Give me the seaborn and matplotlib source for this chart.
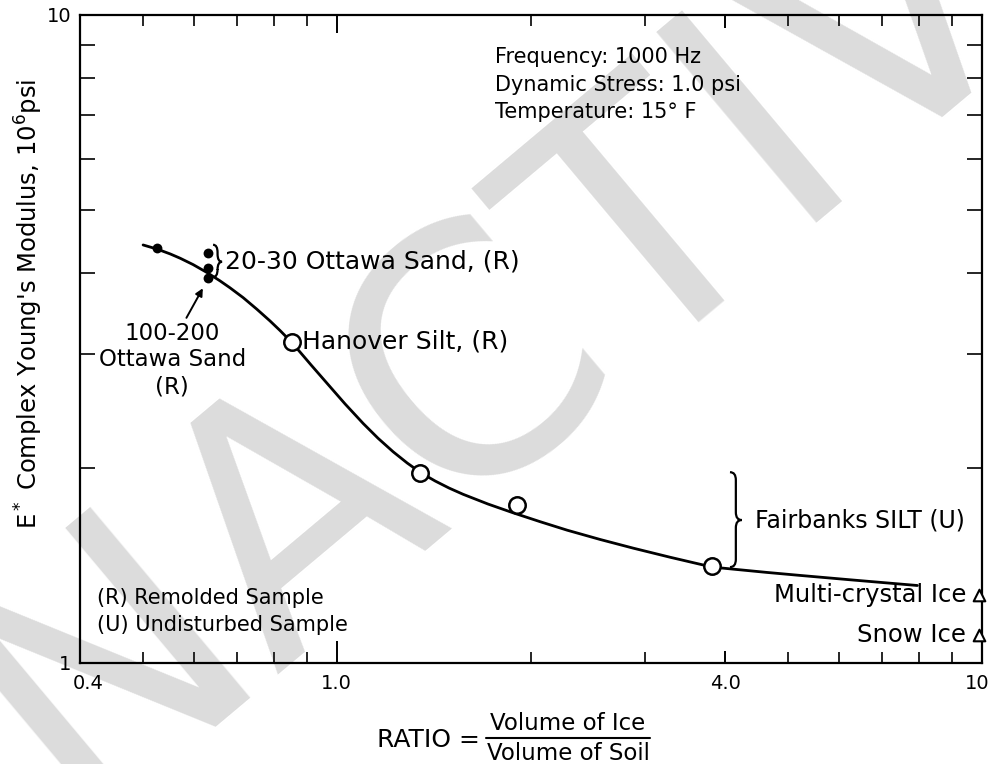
import numpy as np
import matplotlib
matplotlib.use("Agg")
import matplotlib.pyplot as plt
import matplotlib.transforms as mtransforms
from matplotlib.path import Path
from matplotlib.patches import PathPatch
from matplotlib.lines import Line2D
import seaborn as sns
import pandas as pd

# fitted curve
curve_ratio = [0.501, 0.527, 0.552, 0.572, 0.599, 0.629, 0.659, 0.683, 0.716, 0.752,
               0.788, 0.817, 0.853, 0.912, 0.976, 1.030, 1.099, 1.159, 1.223, 1.286,
               1.351, 1.421, 1.493, 1.570, 1.716, 1.877, 2.067, 2.276, 2.560, 2.880,
               3.287, 3.819, 4.630, 5.229, 6.249, 7.941]
curve_modulus = [4.417, 4.352, 4.278, 4.213, 4.119, 4.006, 3.889, 3.794, 3.663, 3.515,
                 3.372, 3.258, 3.119, 2.885, 2.670, 2.511, 2.342, 2.222, 2.118, 2.035,
                 1.965, 1.909, 1.862, 1.821, 1.759, 1.705, 1.652, 1.603, 1.551, 1.504,
                 1.456, 1.406, 1.380, 1.365, 1.344, 1.317]

# sand samples (filled dots)
sand_ratio = [0.526, 0.632, 0.632, 0.632]
sand_modulus = [4.37, 4.29, 4.07, 3.93]

# silt samples (open circles)
silt_ratio = [0.852, 1.347, 1.904, 3.818]
silt_modulus = [3.13, 1.964, 1.753, 1.411]

# ice samples (triangles, on the right edge)
ice_ratio = [9.9, 9.9]
ice_modulus = [1.275, 1.105]
ice_labels = ["Multi-crystal Ice", "Snow Ice"]

x_major = [0.4, 1.0, 4.0, 10.0]
x_major_labels = ["0.4", "1.0", "4.0", "10"]
x_minor = [0.5, 0.6, 0.7, 0.8, 0.9, 2, 3, 5, 6, 7, 8, 9]
y_major = [1, 10]
y_major_labels = ["1", "10"]
y_minor = [2, 3, 4, 5, 6, 7, 8, 9]

notes = ["Frequency: 1000 Hz", "Dynamic Stress: 1.0 psi", "Temperature: 15\u00b0 F"]
legend_notes = ["(R) Remolded Sample", "(U) Undisturbed Sample"]

sns.set_theme(style="ticks")
plt.rcParams["font.family"] = ["DejaVu Sans"]
plt.rcParams["mathtext.fontset"] = "dejavusans"
plt.rcParams["text.color"] = "black"

fig = plt.figure(figsize=(9.89, 7.64), dpi=100)
fig.patch.set_facecolor("white")
ax = fig.add_axes([80 / 989, 101 / 764, 902 / 989, 648 / 764])
ax.set_facecolor("none")

# light grey watermark behind the plot
fig.text(0.607, 0.508, "INACTIVE", rotation=40, rotation_mode="anchor",
         fontsize=245, color="#dcdcdc", ha="center", va="baseline", zorder=-5)

curve_df = pd.DataFrame({"ratio": curve_ratio, "modulus": curve_modulus})
sns.lineplot(data=curve_df, x="ratio", y="modulus", sort=False, estimator=None,
             color="black", linewidth=2.0, ax=ax)
sns.scatterplot(x=sand_ratio, y=sand_modulus, color="black", s=50, edgecolor="black",
                linewidth=0, ax=ax, zorder=4)
sns.scatterplot(x=silt_ratio, y=silt_modulus, facecolor="white", edgecolor="black",
                s=140, linewidth=1.8, ax=ax, zorder=4)
sns.scatterplot(x=ice_ratio, y=ice_modulus, marker="^", facecolor="white",
                edgecolor="black", s=70, linewidth=1.5, ax=ax, zorder=5, clip_on=False)

ax.set_xscale("log")
ax.set_yscale("log")
ax.set_xlim(0.4, 10)
ax.set_ylim(1, 10)
ax.set_xticks(x_major)
ax.set_xticklabels(x_major_labels)
ax.set_xticks(x_minor, minor=True)
ax.set_xticklabels([], minor=True)
ax.set_yticks(y_major)
ax.set_yticklabels(y_major_labels)
ax.set_yticks(y_minor, minor=True)
ax.set_yticklabels([], minor=True)
ax.tick_params(axis="x", which="major", direction="in", length=9, width=1.4,
               top=True, bottom=True, labelsize=14, pad=8, colors="black")
ax.tick_params(axis="x", which="minor", direction="in", length=8, width=1.4,
               top=True, bottom=True)
ax.tick_params(axis="y", which="major", direction="in", length=0, width=1.4,
               left=True, right=True, labelsize=14, pad=6, colors="black")
ax.tick_params(axis="y", which="minor", direction="in", length=11, width=1.4,
               left=True, right=True)
# the 1.0 tick is drawn longer
t10 = ax.xaxis.get_major_ticks()[1]
t10.tick1line.set_markersize(16)
t10.tick2line.set_markersize(13)
for sp in ax.spines.values():
    sp.set_visible(True)
    sp.set_linewidth(1.6)
    sp.set_color("black")
ax.set_xlabel("")
ax.set_ylabel("")

xlabs = ax.get_xticklabels()
xlabs[0].set_transform(xlabs[0].get_transform()
                       + mtransforms.ScaledTranslation(8 / 100, 0, fig.dpi_scale_trans))
xlabs[-1].set_transform(xlabs[-1].get_transform()
                        + mtransforms.ScaledTranslation(-5 / 100, 0, fig.dpi_scale_trans))

ax.text(0.672, 4.16, "20-30 Ottawa Sand, (R)", fontsize=18, va="center", ha="left")
ax.text(0.556, 2.935, "100-200\nOttawa Sand\n(R)", fontsize=16.5, va="center",
        ha="center", linespacing=1.2)
ax.annotate("", xy=(0.623, 3.82), xytext=(0.582, 3.38),
            arrowprops=dict(arrowstyle="-|>", color="black", lw=1.4, mutation_scale=11))
ax.text(0.883, 3.13, "Hanover Silt, (R)", fontsize=18, va="center", ha="left")
ax.text(4.45, 1.662, "Fairbanks SILT (U)", fontsize=17, va="center", ha="left")
for r, m, lab in zip(ice_ratio, ice_modulus, ice_labels):
    ax.text(r * 0.955, m, lab, fontsize=17.5, va="center", ha="right")

for i, line in enumerate(legend_notes):
    ax.text(0.019, 0.100 - i * 0.042, line, transform=ax.transAxes, fontsize=15,
            va="center", ha="left")

for i, line in enumerate(notes):
    ax.text(0.46, 0.935 - i * 0.0425, line, transform=ax.transAxes, fontsize=15,
            va="center", ha="left")


def brace(ax, x, y0, y1, width, tip):
    # curly brace pointing right; x and width in axes fraction, y in data units
    to_ax = ax.transData + ax.transAxes.inverted()
    _, a0 = to_ax.transform((1.0, y0))
    _, a1 = to_ax.transform((1.0, y1))
    _, am = to_ax.transform((1.0, tip))
    xm = x + width / 2
    d = 0.012
    verts = [(x, a1), (xm, a1), (xm, a1 - d),
             (xm, am + d),
             (xm, am), (x + width, am),
             (xm, am), (xm, am - d),
             (xm, a0 + d),
             (xm, a0), (x, a0)]
    codes = [Path.MOVETO, Path.CURVE3, Path.CURVE3,
             Path.LINETO,
             Path.CURVE3, Path.CURVE3,
             Path.CURVE3, Path.CURVE3,
             Path.LINETO,
             Path.CURVE3, Path.CURVE3]
    ax.add_patch(PathPatch(Path(verts, codes), transform=ax.transAxes, fill=False,
                           lw=1.6, edgecolor="black", clip_on=False))


brace(ax, 0.1475, 3.94, 4.42, 0.010, 4.16)
brace(ax, 0.7206, 1.406, 1.97, 0.013, 1.662)

fig.text(29 / 989, 1 - 304 / 764, "E$^*$ Complex Young's Modulus, 10$^6$psi",
         rotation=90, fontsize=17.5, ha="center", va="center")

fig.text(480 / 989, 1 - 740 / 764, "RATIO =", fontsize=18, ha="right", va="center")
fig.text(568 / 989, 1 - 723 / 764, "Volume of Ice", fontsize=16.5, ha="center", va="center")
fig.text(568 / 989, 1 - 754 / 764, "Volume of Soil", fontsize=16.5, ha="center", va="center")
fig.add_artist(Line2D([486 / 989, 650 / 989], [1 - 738 / 764, 1 - 738 / 764],
                      color="black", lw=1.5))

fig.savefig("out.png", dpi=100)
